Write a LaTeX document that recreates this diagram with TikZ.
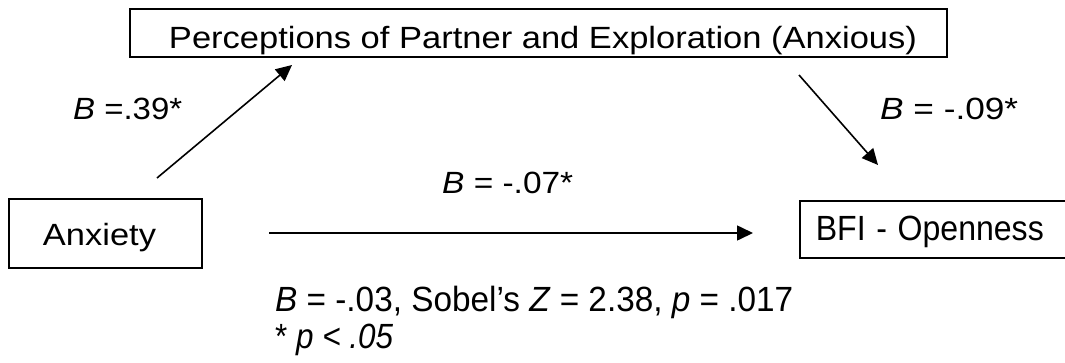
\documentclass[tikz,border=0pt]{standalone}
\usepackage{fontspec}
\setmainfont{Liberation Sans}
\usetikzlibrary{arrows.meta}
\newcommand{\fitw}[2]{\resizebox{#1}{\height}{#2}}
\begin{document}
\begin{tikzpicture}[x=1pt,y=-1pt,
  box/.style={draw=black,line width=1.6pt,inner xsep=0pt,inner ysep=0pt,text depth=0pt},
  small/.style={font=\fontsize{30.7}{36}\selectfont},
  big/.style={font=\fontsize{35}{40}\selectfont},
  lab/.style={inner sep=0pt,anchor=base west},
  conn/.style={line width=1.6pt,-{Triangle[length=16pt,width=15pt]}}]
\useasboundingbox (0,0) rectangle (1065,362);
\begin{scope}
\clip (0,0) rectangle (1065,362);
\node[box,small,minimum width=817pt,minimum height=48pt,text height=30pt] (med) at (538.5,33)
  {\hspace*{9pt}\fitw{748pt}{Perceptions of Partner and Exploration (Anxious)}};
\node[box,small,minimum width=193pt,minimum height=69pt,text height=23pt] (anx) at (105.5,233.5)
  {\fitw{113pt}{Anxiety}\hspace*{12pt}};
\node[box,big,anchor=west,inner xsep=16pt,text width=260pt,align=left,minimum height=57pt,text height=21pt] (bfi) at (799,229.5)
  {\fitw{228pt}{BFI - Openness}};
\end{scope}
\coordinate (a1s) at (157,178);
\coordinate (a1e) at (292,65);
\coordinate (a2s) at (799,75);
\coordinate (a2e) at (878,165);
\coordinate (a3s) at (269,233);
\coordinate (a3e) at (753,233);
\draw[conn] (a1s) -- (a1e);
\draw[conn] (a2s) -- (a2e);
\draw[conn] (a3s) -- (a3e);
\node[lab,small] (l1) at (73,119) {\fitw{109pt}{\textit{B} =.39*}};
\node[lab,small] (l2) at (880,119) {\fitw{138pt}{\textit{B} = -.09*}};
\node[lab,small] (l3) at (442,193) {\fitw{131pt}{\textit{B} = -.07*}};
\node[lab,big] (l4) at (275,311.5) {\fitw{518pt}{\textit{B} = -.03, Sobel’s \textit{Z} = 2.38, \textit{p} = .017}};
\node[lab,big] (l5) at (275,348) {\fitw{118pt}{* \textit{p < .05}}};
\end{tikzpicture}
\end{document}
